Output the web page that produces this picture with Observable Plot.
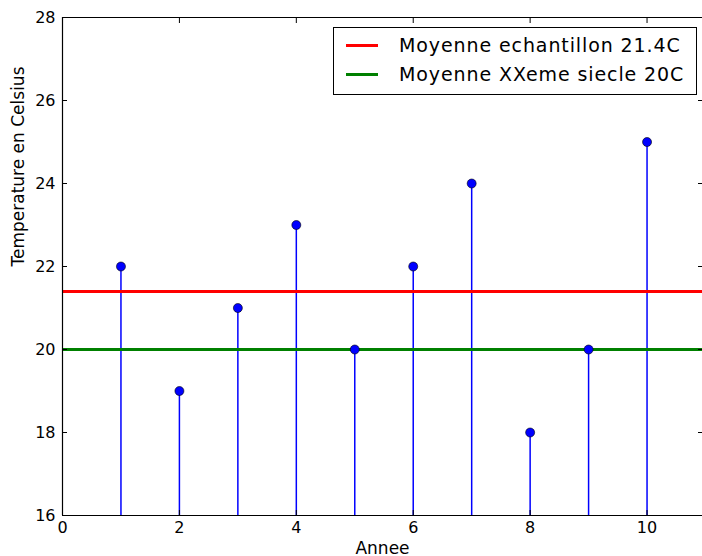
<!DOCTYPE html>
<html><head><meta charset="utf-8">
<script src="https://cdn.jsdelivr.net/npm/d3@7"></script>
<script src="https://cdn.jsdelivr.net/npm/@observablehq/plot@0.6"></script>
<style>
html,body{margin:0;padding:0;background:#fff;overflow:hidden;}
#wrap{position:relative;width:702px;height:556px;font-family:"DejaVu Sans",sans-serif;}
#legend{position:absolute;left:333px;top:27px;width:362px;height:66px;border:1px solid #000;background:#fff;box-sizing:content-box;}
.row{position:absolute;left:0;height:22px;display:flex;align-items:center;font-size:19px;letter-spacing:0.9px;color:#000;white-space:nowrap;}
.sw{display:inline-block;width:32px;height:3px;margin-left:12px;margin-right:21px;}
</style></head><body>
<div id="wrap"></div>
<script>
const years = [1,2,3,4,5,6,7,8,9,10];
const temps = [22,19,21,23,20,22,24,18,20,25];
const xTicks = [0,2,4,6,8,10];
const yTicks = [16,18,20,22,24,26,28];
const meanLabels = ["Moyenne echantillon 21.4C","Moyenne XXeme siecle 20C"];
const meanValues = [21.4, 20];
const meanColors = ["#ff0000","#008000"];

const data = years.map((y,i)=>({year:y,temp:temps[i]}));
const means = meanValues.map((v,i)=>({v,label:meanLabels[i],color:meanColors[i]}));

const chart = Plot.plot({
  width:702, height:556,
  marginLeft:62, marginRight:0, marginTop:17, marginBottom:41,
  style:{fontFamily:"DejaVu Sans, sans-serif", fontSize:"16px", color:"#000", background:"#fff"},
  x:{type:"linear", domain:[0,11], range:[62,705], label:null},
  y:{type:"linear", domain:[16,28], label:null},
  marks:[
    Plot.ruleX(data,{x:"year", y1:16, y2:"temp", stroke:"#0000ff", strokeWidth:1.5}),
    Plot.ruleY(means,{y:"v", stroke:"color", strokeWidth:3}),
    Plot.dot(data,{x:"year", y:"temp", r:4.5, fill:"#0000ff", stroke:"#000", strokeWidth:0.6}),
    Plot.ruleX([0,11],{stroke:"#000", strokeWidth:1.2}),
    Plot.ruleY([16,28],{stroke:"#000", strokeWidth:1.2}),
    Plot.axisX({ticks:xTicks, tickSize:0, tickPadding:6, fontSize:16, label:null, tickFormat:d=>d}),
    Plot.axisX({ticks:xTicks, anchor:"top", tickSize:-5, label:null, tickFormat:()=>""}),
    Plot.axisX({ticks:xTicks, anchor:"bottom", tickSize:-5, label:null, tickFormat:()=>""}),
    Plot.axisY({ticks:yTicks, tickSize:-5, tickPadding:12, fontSize:16, label:null, tickFormat:d=>d}),
    Plot.axisY({ticks:yTicks, anchor:"right", tickSize:-5, label:null, tickFormat:()=>""}),
    Plot.text(["Annee"],{frameAnchor:"bottom", dy:38, fontSize:17, fill:"#000"}),
    Plot.text(["Temperature en Celsius"],{frameAnchor:"left", dx:-44, rotate:-90, fontSize:17, fill:"#000"})
  ]
});
document.getElementById("wrap").appendChild(chart);

const leg = document.createElement("div");
leg.id = "legend";
means.forEach((m,i)=>{
  const row = document.createElement("div");
  row.className = "row";
  row.style.top = (6 + i*29) + "px";
  const sw = document.createElement("span");
  sw.className = "sw"; sw.style.background = m.color;
  row.appendChild(sw);
  row.appendChild(document.createTextNode(m.label));
  leg.appendChild(row);
});
document.getElementById("wrap").appendChild(leg);
</script>
</body></html>
